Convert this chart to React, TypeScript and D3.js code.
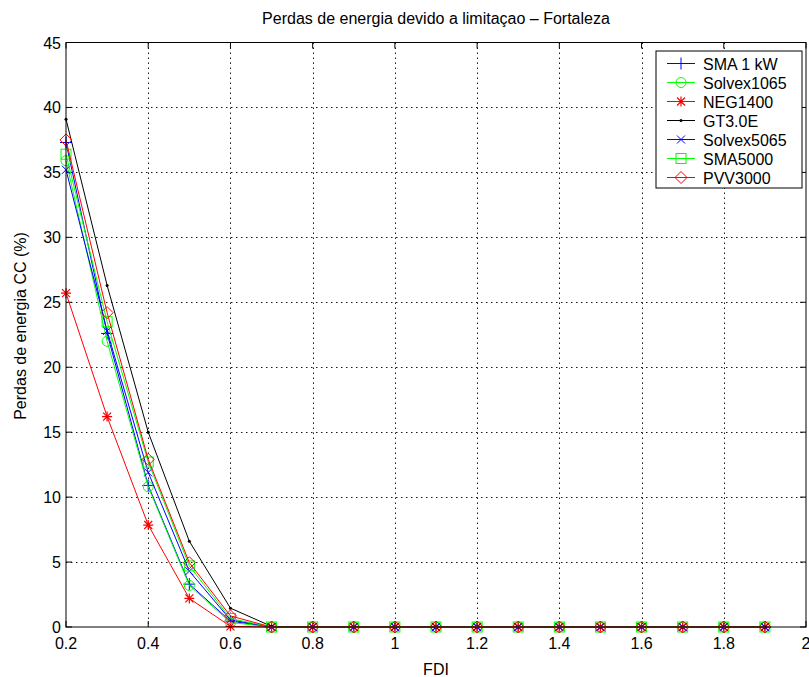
import React from "react";
import * as d3 from "d3";

const fdi = [0.2, 0.3, 0.4, 0.5, 0.6, 0.7, 0.8, 0.9, 1.0, 1.1, 1.2, 1.3, 1.4, 1.5, 1.6, 1.7, 1.8, 1.9];
const sma1kw = [37.3, 22.6, 10.9, 3.3, 0.45, 0, 0, 0, 0, 0, 0, 0, 0, 0, 0, 0, 0, 0];
const solvex1065 = [35.9, 22.0, 10.8, 3.2, 0.35, 0, 0, 0, 0, 0, 0, 0, 0, 0, 0, 0, 0, 0];
const neg1400 = [25.7, 16.2, 7.85, 2.2, 0.05, 0, 0, 0, 0, 0, 0, 0, 0, 0, 0, 0, 0, 0];
const gt30e = [39.1, 26.3, 15.0, 6.6, 1.45, 0.05, 0, 0, 0, 0, 0, 0, 0, 0, 0, 0, 0, 0];
const solvex5065 = [35.2, 22.8, 11.9, 4.3, 0.55, 0, 0, 0, 0, 0, 0, 0, 0, 0, 0, 0, 0, 0];
const sma5000 = [36.4, 23.5, 12.7, 4.7, 0.65, 0, 0, 0, 0, 0, 0, 0, 0, 0, 0, 0, 0, 0];
const pvv3000 = [37.5, 24.2, 12.9, 4.95, 0.85, 0, 0, 0, 0, 0, 0, 0, 0, 0, 0, 0, 0, 0];

const seriesNames = ["SMA 1 kW", "Solvex1065", "NEG1400", "GT3.0E", "Solvex5065", "SMA5000", "PVV3000"];
const seriesValues = [sma1kw, solvex1065, neg1400, gt30e, solvex5065, sma5000, pvv3000];
const seriesColors = ["#0000ff", "#00ff00", "#ff0000", "#000000", "#0000ff", "#00ff00", "#ff0000"];
const seriesMarkers = ["plus", "circle", "star", "dot", "x", "square", "diamond"];

const xTicks = [0.2, 0.4, 0.6, 0.8, 1, 1.2, 1.4, 1.6, 1.8, 2];
const yTicks = [0, 5, 10, 15, 20, 25, 30, 35, 40, 45];

const title = "Perdas de energia devido a limitaçao – Fortaleza";
const xLabel = "FDI";
const yLabel = "Perdas de energia CC (%)";

const L = 66, R = 806, T = 42.5, B = 627;
const FONT = "'Liberation Sans', Arial, Helvetica, sans-serif";
const FS = 16;

function Marker({ type, x, y, color }: { type: string; x: number; y: number; color: string }) {
  const s = 5;
  switch (type) {
    case "plus":
      return <path d={`M${x - s - 1},${y}H${x + s + 1}M${x},${y - s - 1}V${y + s + 1}`} stroke={color} strokeWidth={1} fill="none" />;
    case "circle":
      return <circle cx={x} cy={y} r={s} stroke={color} strokeWidth={1} fill="none" />;
    case "star":
      return (
        <path
          d={`M${x - s},${y}H${x + s}M${x},${y - s}V${y + s}M${x - 4},${y - 4}L${x + 4},${y + 4}M${x - 4},${y + 4}L${x + 4},${y - 4}`}
          stroke={color}
          strokeWidth={1.2}
          fill="none"
        />
      );
    case "dot":
      return <circle cx={x} cy={y} r={1.5} fill={color} />;
    case "x":
      return <path d={`M${x - 4},${y - 4}L${x + 4},${y + 4}M${x - 4},${y + 4}L${x + 4},${y - 4}`} stroke={color} strokeWidth={1} fill="none" />;
    case "square":
      return <rect x={x - s} y={y - s} width={2 * s} height={2 * s} stroke={color} strokeWidth={1} fill="none" />;
    case "diamond":
      return <path d={`M${x},${y - 6}L${x + 6},${y}L${x},${y + 6}L${x - 6},${y}Z`} stroke={color} strokeWidth={1} fill="none" />;
    default:
      return null;
  }
}

export default function App() {
  const x = d3.scaleLinear().domain([0.2, 2]).range([L, R]);
  const y = d3.scaleLinear().domain([0, 45]).range([B, T]);
  const line = d3
    .line<number>()
    .x((_, i) => x(fdi[i]))
    .y((d) => y(d));

  const tickLen = 6;
  return (
    <svg width={809} height={677} style={{ position: "absolute", left: 0, top: 0, background: "#fff" }}>
      <rect x={0} y={0} width={809} height={677} fill="#fff" />
      <text x={(L + R) / 2} y={24} textAnchor="middle" fontFamily={FONT} fontSize={FS} fill="#000">
        {title}
      </text>
      {/* grid */}
      <g stroke="#000" strokeWidth={1} strokeDasharray="1.5,3.5" opacity={0.9}>
        {xTicks.slice(1, -1).map((t) => (
          <line key={"gx" + t} x1={Math.round(x(t)) + 0.5} x2={Math.round(x(t)) + 0.5} y1={T} y2={B} />
        ))}
        {yTicks.slice(1, -1).map((t) => (
          <line key={"gy" + t} x1={L} x2={R} y1={Math.round(y(t)) + 0.5} y2={Math.round(y(t)) + 0.5} />
        ))}
      </g>
      {/* ticks */}
      <g stroke="#000" strokeWidth={1}>
        {xTicks.map((t) => (
          <g key={"tx" + t}>
            <line x1={x(t)} x2={x(t)} y1={B} y2={B - tickLen} />
            <line x1={x(t)} x2={x(t)} y1={T} y2={T + tickLen} />
          </g>
        ))}
        {yTicks.map((t) => (
          <g key={"ty" + t}>
            <line x1={L} x2={L + tickLen} y1={y(t)} y2={y(t)} />
            <line x1={R} x2={R - tickLen} y1={y(t)} y2={y(t)} />
          </g>
        ))}
      </g>
      {/* series */}
      {seriesValues.map((vals, si) => (
        <g key={"s" + si}>
          <path d={line(vals) || ""} stroke={seriesColors[si]} strokeWidth={1} fill="none" />
          {vals.map((v, i) => (
            <Marker key={i} type={seriesMarkers[si]} x={x(fdi[i])} y={y(v)} color={seriesColors[si]} />
          ))}
        </g>
      ))}
      {/* frame */}
      <rect x={L} y={T} width={R - L} height={B - T} fill="none" stroke="#000" strokeWidth={1} />
      {/* tick labels */}
      {xTicks.map((t) => (
        <text key={"lx" + t} x={x(t)} y={649} textAnchor="middle" fontFamily={FONT} fontSize={FS} fill="#000">
          {String(t)}
        </text>
      ))}
      {yTicks.map((t) => (
        <text key={"ly" + t} x={61} y={y(t) + 6} textAnchor="end" fontFamily={FONT} fontSize={FS} fill="#000">
          {String(t)}
        </text>
      ))}
      <text x={(L + R) / 2} y={675} textAnchor="middle" fontFamily={FONT} fontSize={FS} fill="#000">
        {xLabel}
      </text>
      <text
        transform={`translate(26,326) rotate(-90)`}
        textAnchor="middle"
        fontFamily={FONT}
        fontSize={FS}
        fill="#000"
      >
        {yLabel}
      </text>
      {/* legend */}
      <g>
        <rect x={656} y={51} width={146} height={137} fill="#fff" stroke="#000" strokeWidth={1} />
        {seriesNames.map((n, i) => {
          const ly = 63.5 + i * 19;
          return (
            <g key={"lg" + i}>
              <line x1={667} x2={695} y1={ly} y2={ly} stroke={seriesColors[i]} strokeWidth={1} />
              <Marker type={seriesMarkers[i]} x={681} y={ly} color={seriesColors[i]} />
              <text x={703} y={ly + 6} fontFamily={FONT} fontSize={FS} fill="#000">
                {n}
              </text>
            </g>
          );
        })}
      </g>
    </svg>
  );
}
